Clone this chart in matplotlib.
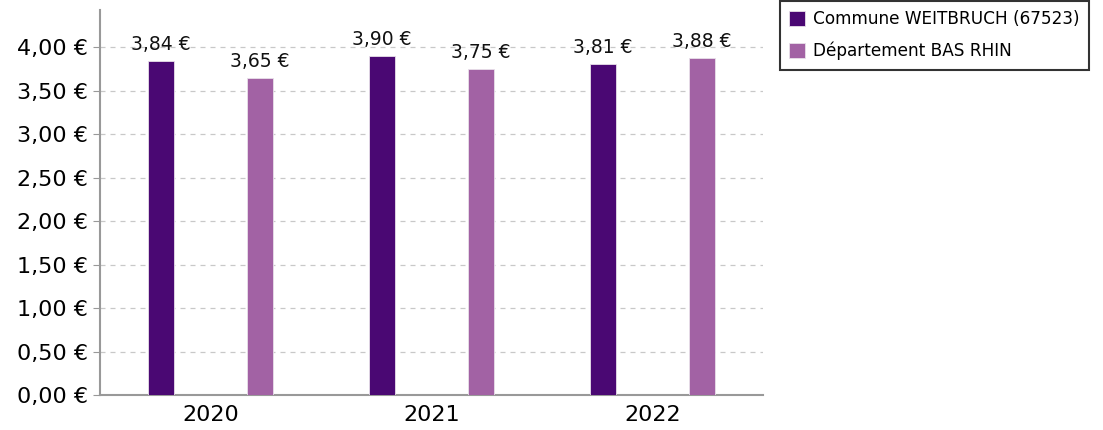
import matplotlib.pyplot as plt
import numpy as np

years = ["2020", "2021", "2022"]
commune = [3.84, 3.90, 3.81]
departement = [3.65, 3.75, 3.88]
series_names = ["Commune WEITBRUCH (67523)", "Département BAS RHIN"]
colors = ["#4a0873", "#a262a4"]
yticks = [0, 0.5, 1.0, 1.5, 2.0, 2.5, 3.0, 3.5, 4.0]


def euro(v):
    return f"{v:.2f}".replace(".", ",") + " €"


def main():
    plt.rcParams["font.family"] = ["DejaVu Sans"]
    fig = plt.figure(figsize=(11.03, 4.30), dpi=100)
    ax = fig.add_axes([0.0907, 0.0814, 0.601, 0.8953])

    x = np.arange(len(years))
    width = 0.118
    offset = 0.225
    for vals, name, col, dx in zip([commune, departement], series_names, colors, [-offset, offset]):
        bars = ax.bar(x + dx, vals, width, color=col, label=name, zorder=3,
                      edgecolor="#e8e0ea", linewidth=0.6)
        for b, v in zip(bars, vals):
            ax.annotate(euro(v), (b.get_x() + b.get_width() / 2, v),
                        xytext=(0, 5), textcoords="offset points",
                        ha="center", va="bottom", fontsize=13.5, color="#111111")

    ax.set_xlim(-0.5, 2.5)
    ax.set_ylim(0, 4.43)
    ax.set_xticks(x)
    ax.set_xticklabels(years, fontsize=16)
    ax.set_yticks(yticks)
    ax.set_yticklabels([euro(v) for v in yticks], fontsize=16)
    ax.tick_params(axis="x", length=0, pad=7)
    ax.tick_params(axis="y", length=5, color="#999999", pad=4)

    ax.grid(axis="y", linestyle=(0, (4, 4)), color="#c8c8c8", linewidth=0.9, zorder=0)
    for side in ["top", "right"]:
        ax.spines[side].set_visible(False)
    for side in ["left", "bottom"]:
        ax.spines[side].set_color("#999999")
        ax.spines[side].set_linewidth(1.5)

    leg = fig.legend(loc="upper left", bbox_to_anchor=(780 / 1103, 1 - 1 / 430),
                     fontsize=12.2, frameon=True, fancybox=False, handlelength=0.9,
                     handleheight=0.9, handletextpad=0.5, borderpad=0.55,
                     labelspacing=0.8, borderaxespad=0)
    leg.get_frame().set_edgecolor("black")
    leg.get_frame().set_linewidth(1.5)

    fig.savefig("out.png", dpi=100)
    plt.close(fig)


if __name__ == "__main__":
    main()
